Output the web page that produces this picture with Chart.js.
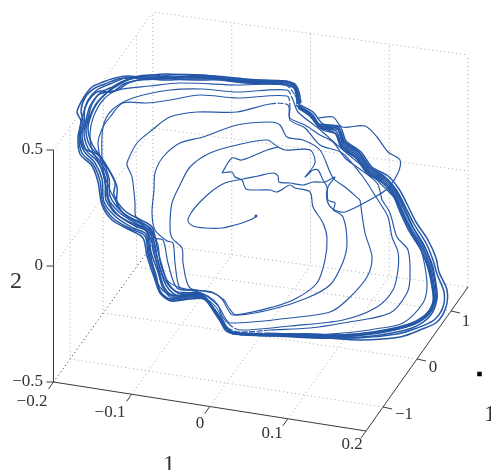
<!DOCTYPE html>
<html><head><meta charset="utf-8">
<style>html,body{margin:0;padding:0;background:#fff;overflow:hidden}canvas{display:block}</style>
<script src="https://cdn.jsdelivr.net/npm/chart.js@4"></script></head>
<body><canvas id="c" width="491" height="470"></canvas>
<script>
// Axis ticks
const xTicks=[-0.2,-0.1,0,0.1,0.2];
const yTicks=[-1,0,1];
const zTicks=[-0.5,0,0.5];
const xTickLabels=["−0.2","−0.1","0","0.1","0.2"];
const yTickLabels=["−1","0","1"];
const zTickLabels=["−0.5","0","0.5"];
const turn0=[256,216,254,218,250,220,242,223,235,225,222,228,205,228,193,226,188,221,191,213,200,202,212,191,225,183,243,179,258,176,273,173,278,176,279,182,290,183,303,185,313,182,325,182,335,177,328,187,327,200,333,209,345,212,375,197,388,188,398,173,400,160,388,152,377,137,365,126,342,127,333,117,318,118];
const turn1=[222,173,232,172,235,177,242,180,246,189,258,190,270,190,277,192,290,185,295,188,310,192,313,207,323,223,327,238,325,260,317,283,297,298,273,307,233,315,227,308,222,299,212,292,190,288,183,263,182,248,172,238,170,227,172,203,180,185,190,167,210,153,237,145,267,140,278,147,285,150,310,150,315,163,305,177,313,170,318,170,323,180,327,187,328,200,335,203,333,210];
const turn1b=[222,173,232,158,242,160,267,150,278,147];
const turn2=[333,210,343,217,347,243,343,262,330,285,307,298,273,309,236,315,229,308,224,300,213,293,195,290,180,288,175,263,173,243,167,241,155,230,152,213,154,190,155,173,163,157,180,143,203,137,237,125,270,122,280,125,287,137,303,140,320,150,333,178,345,187,360,200];
const turn3=[360,200,365,233,372,257,367,277,347,300,330,312,290,318,230,323,224,316,219,307,208,297,195,291,177,288,168,263,163,240,155,238,148,227,136,217,135,203,132,177,127,165,128,160,137,143,152,130,170,117,197,112,237,112,270,104,288,105,290,120,305,128,320,145,342,153,363,177,378,200];
const turn4=[378,200,388,217,392,237,398,252,398,270,393,290,377,307,343,320,290,326,240,330,230,325,222,316,218,305,208,296,195,291,178,287,167,280,160,262,158,245,150,228,140,222,125,215,118,205,110,190,103,170,98,143,103,127,110,117,123,103,147,103,170,100,200,95,237,98,287,96,290,107,290,118,305,125,320,135,333,142,345,158,357,167,377,183,382,200];
const turn5=[382,200,390,213,397,237,408,250,410,277,407,293,390,313,343,323,310,328,270,330,240,332,228,328,222,318,216,307,205,298,190,293,175,291,165,280,158,262,155,245,147,230,130,222,118,215,108,200,105,183,102,157,103,127,112,110,133,98,170,90,203,89,237,92,287,90,293,100,298,112,318,128,343,150,367,170,380,183,397,200];
const turn6=[397,200,407,223,420,247,425,267,427,287,423,303,403,323,375,329,343,333,310,335,270,333,238,333,228,329,222,320,214,308,204,299,190,295,172,295,163,285,157,265,153,245,145,230,128,222,112,210,107,190,100,165,92,150,90,135,93,118,103,100,118,90,150,86,180,83,237,85,285,85,295,95,300,108];
const turn7=[300,105,313,112,323,124,340,127,346,141,361,152,372,167,388,176,399,189,407,204,416,222,428,240,436,258,439,272,447,290,446,307,437,322,420,330,400,337,360,340,327,338,290,336,250,335,232,333,223,325,214,312,204,299,190,299,171,301,160,293,154,277,147,256,143,238,130,230,112,220,102,205,98,182,92,166,80,154,78,137,81,121,77,112,84,97,92,87,103,82,115,78,127,76,150,78,170,75,203,75,232,79,270,81,290,82,297,89,299,102];
const turn8=[299,106,312,114,321,126,339,129,345,143,360,154,371,169,386,178,397,191,405,206,414,224,426,243,433,260,437,274,444,292,443,307,434,320,417,328,397,334,358,338,325,337,290,336,250,335,231,333,223,324,215,311,205,298,191,298,172,300,161,293,155,276,148,254,145,236,131,229,114,219,103,204,100,181,93,164,82,153,79,136,83,122,81,110,86,96,95,88,105,84,118,79,130,78,150,79,172,77,205,77,235,80,272,82,291,84,296,91,298,103];
const turn9=[298,107,311,115,320,127,338,130,344,144,359,155,370,170,385,179,396,192,403,208,412,226,424,245,431,263,435,282,436,298,429,314,412,325,378,332,345,336,312,336,275,335,245,334,230,332,222,321,214,309,204,297,189,297,170,299,160,291,156,275,149,253,146,234,133,228,116,217,104,202,102,179,95,163,84,151,80,138,84,124,85,108,92,96,100,91,112,92,124,84,140,80,160,79,180,78,210,78,238,81,275,84,292,85,296,93,297,104];
const turn10=[297,106,310,116,319,126,337,128,343,145,358,156,369,171,384,180,395,193,402,210,411,228,423,247,430,265,434,284,435,300,427,316,409,326,376,333,343,336,310,335,273,335,243,334,229,331,221,320,213,308,203,296,188,296,172,298,163,288,158,272,151,252,148,232,135,226,118,215,106,200,105,178,97,161,86,150,82,134,86,120,90,106,98,95,106,92,118,90,128,83,145,79,165,80,190,79,215,79,240,82,278,83,293,87,297,95,298,104];
const turn11=[298,108,311,117,320,128,336,131,342,146,357,157,368,172,383,181,394,194,401,211,410,229,422,248,429,266,433,285,434,301,426,316,408,325,375,332,342,335,309,334,272,334,242,333,228,330,220,319,212,306,202,295,187,295,174,297,164,287,159,270,153,250,150,231,137,224,120,213,108,198,107,176,99,160,88,148,84,132,88,118,92,104,100,93,110,88,122,82,135,78,155,77,175,79,195,80,220,80,245,83,280,84,294,88,298,96,299,105];
const turn12=[299,107,312,116,322,128,335,133,341,147,356,158,367,173,382,182,393,195,400,212,409,231,421,250,428,268,432,287,433,302,425,315,406,325,373,332,340,335,307,334,270,334,240,333,227,330,219,318,211,305,201,294,186,294,176,295,166,285,160,268,155,248,151,229,139,222,122,212,110,196,109,178,101,158,90,146,86,130,90,116,96,104,104,95,116,85,126,80,145,77,165,78,188,77,212,77,240,81,282,82,294,85,298,94,300,104];
const turn13=[300,109,313,118,323,130,336,134,342,148,357,159,368,174,383,183,394,197,402,213,411,232,422,252,429,270,433,288,433,303,424,317,405,327,372,334,338,337,305,336,268,335,238,334,226,331,218,316,210,304,200,293,185,293,178,293,168,283,162,266,157,247,152,227,141,220,125,211,114,195,115,182,103,160,92,144,88,128,92,113,98,102,108,92,120,84,135,77,150,75,170,77,195,76,225,78,255,80,285,81,295,84,299,92,301,103];
const turn14=[296,105,309,113,319,124,338,127,344,141,359,152,370,167,385,177,396,190,404,207,413,227,424,246,432,264,436,284,437,299,430,316,412,328,380,335,345,338,312,338,275,336,245,335,231,333,224,326,216,312,206,300,193,296,180,296,168,294,158,284,152,262,149,246,146,228,128,217,117,205,117,187,110,172,98,155,84,148,80,130,83,115,88,100,97,90,110,84,125,78,145,76,165,74,190,75,215,76,245,79,275,81,289,82,295,87,297,100];
const turns=[turn0,turn1,turn1b,turn2,turn3,turn4,turn5,turn6,turn7,turn8,turn9,turn10,turn11,turn12,turn13,turn14];

// Projection of the 3-D box onto the picture plane
const A=[53.5,382],B=[366,431],C=[468,287],D=[153,244],H=232;
function P(x,y,z){
  const s=(x+0.2)/0.4,t=(y+1.5)/3;
  const f=(i)=>A[i]*(1-s)*(1-t)+B[i]*s*(1-t)+C[i]*s*t+D[i]*(1-s)*t;
  return {x:f(0),y:f(1)-(z+0.5)*H};
}
const LINE="#3a3a3a",DOT="#a8a8a8",BLUE="#2557a7";
const datasets=[];
function seg(pts,color,dash){datasets.push({type:'scatter',showLine:true,data:pts,borderColor:color,borderWidth:1,borderDash:dash||[],pointRadius:0,tension:0,order:5});}
const xm=-0.2,xM=0.2,ym=-1.5,yM=1.5,zm=-0.5,zM=0.5;
const dot=[1,3];
// walls and floor grid
seg([P(xm,ym,zM),P(xm,yM,zM),P(xM,yM,zM)],DOT,dot);
seg([P(xm,yM,zm),P(xm,yM,zM)],DOT,dot);
seg([P(xM,yM,zm),P(xM,yM,zM)],DOT,dot);
seg([P(xm,ym,zm),P(xm,yM,zm)],"#222",dot);
seg([P(xm,yM,zm),P(xM,yM,zm)],DOT,dot);
for(const x of xTicks.slice(1,-1)){
  seg([P(x,ym,zm),P(x,yM,zm),P(x,yM,zM)],DOT,dot);
}
for(const y of yTicks){
  seg([P(xM,y,zm),P(xm,y,zm),P(xm,y,zM)],DOT,dot);
}
seg([P(xm,ym,0),P(xm,yM,0),P(xM,yM,0)],DOT,dot);
// axes
seg([P(xm,ym,zM),P(xm,ym,zm),P(xM,ym,zm),P(xM,yM,zm)],LINE);
for(const x of xTicks){const p=P(x,ym,zm);seg([p,{x:p.x-5,y:p.y+7}],LINE);}
for(const y of yTicks){const p=P(xM,y,zm);seg([p,{x:p.x+9,y:p.y+2}],LINE);}
for(const z of zTicks){const p=P(xm,ym,z);seg([p,{x:p.x-7,y:p.y}],LINE);}
// trajectory: sparse stretches at the top right and lower left read as broken lines
const broken=(p)=>(p.x>262&&p.x<296&&p.y<112)||(p.x>226&&p.x<275&&p.y>312);
turns.forEach((t,k)=>{
  const pts=[];for(let i=0;i<t.length;i+=2)pts.push({x:t[i],y:t[i+1]});
  datasets.push({type:'scatter',showLine:true,data:pts,borderColor:BLUE,borderWidth:k>=8?1.5:1.15,pointRadius:0,tension:0.3,order:1,
    segment:{borderDash:c=>broken(c.p0.parsed)&&broken(c.p1.parsed)?[6,1.5]:undefined}});
});
// start marker and stray square
datasets.push({type:'scatter',showLine:false,data:[{x:256,y:216}],pointStyle:'circle',pointRadius:1.5,backgroundColor:BLUE,borderWidth:0,order:0});
datasets.push({type:'scatter',showLine:false,data:[{x:479.5,y:374}],pointStyle:'rect',pointRadius:3.2,backgroundColor:"#000",borderWidth:0,order:0});

const textLabels=[];
const tickPos={x:[[32,402],[110,413],[200,424],[272,434],[352,445]],y:[[404,415],[433,368],[466,322]]};
xTickLabels.forEach((s,i)=>textLabels.push({s,x:tickPos.x[i][0],y:tickPos.x[i][1],a:'center',f:17}));
yTickLabels.forEach((s,i)=>textLabels.push({s,x:tickPos.y[i][0],y:tickPos.y[i][1],a:'center',f:17}));
zTickLabels.forEach((s,i)=>{const p=P(xm,ym,zTicks[i]);textLabels.push({s,x:43,y:p.y,a:'right',f:17});});
textLabels.push({s:"2",x:16,y:282,a:'center',f:24});
textLabels.push({s:"1",x:169,y:465,a:'center',f:24});
textLabels.push({s:"1",x:490,y:415,a:'center',f:24});

const labelPlugin={id:'labels',afterDraw(ch){
  const c=ch.ctx,sx=ch.scales.x,sy=ch.scales.y;
  c.save();c.fillStyle="#333";c.textBaseline='middle';
  for(const l of textLabels){
    c.font=l.f+'px "Liberation Serif"';c.textAlign=l.a;
    c.fillText(l.s,sx.getPixelForValue(l.x),sy.getPixelForValue(l.y));
  }
  c.restore();
}};
new Chart(document.getElementById('c'),{
  type:'scatter',
  data:{datasets},
  options:{responsive:false,animation:false,layout:{padding:0,autoPadding:false},
    plugins:{legend:{display:false},tooltip:{enabled:false}},
    scales:{x:{type:'linear',min:0,max:491,display:false},y:{type:'linear',min:0,max:470,reverse:true,display:false}}},
  plugins:[labelPlugin]
});
</script></body></html>
